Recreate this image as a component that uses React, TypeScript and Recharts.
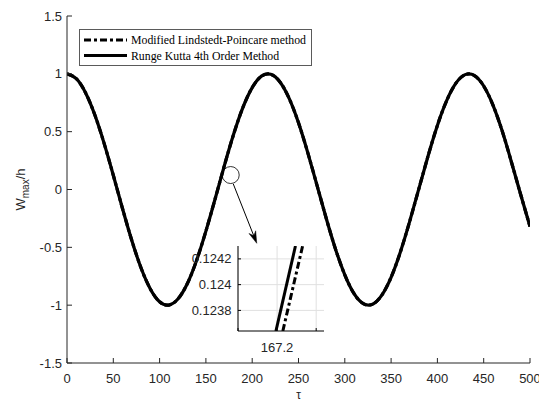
import React from 'react';
import { LineChart, Line, XAxis, YAxis, ReferenceDot, ReferenceLine, Legend, CartesianGrid } from 'recharts';

const tauValues = [0, 10, 20, 30, 40, 50, 60, 70, 80, 90, 100, 110, 120, 130, 140, 150, 160, 170, 180, 190, 200, 210, 220, 230, 240, 250, 260, 270, 280, 290, 300, 310, 320, 330, 340, 350, 360, 370, 380, 390, 400, 410, 420, 430, 440, 450, 460, 470, 480, 490, 500];
const lpValues = [1, 0.958, 0.837, 0.646, 0.401, 0.123, -0.166, -0.441, -0.679, -0.86, -0.971, -0.999, -0.945, -0.813, -0.612, -0.36, -0.08, 0.208, 0.479, 0.71, 0.881, 0.98, 0.996, 0.93, 0.786, 0.577, 0.319, 0.036, -0.251, -0.516, -0.738, -0.901, -0.987, -0.992, -0.913, -0.759, -0.541, -0.278, 0.007, 0.292, 0.554, 0.768, 0.919, 0.993, 0.985, 0.895, 0.73, 0.505, 0.236, -0.045, -0.32];
const rkValues = [1, 0.958, 0.837, 0.646, 0.401, 0.123, -0.166, -0.441, -0.679, -0.86, -0.971, -0.999, -0.945, -0.813, -0.612, -0.36, -0.08, 0.208, 0.479, 0.71, 0.881, 0.98, 0.996, 0.93, 0.786, 0.577, 0.319, 0.036, -0.251, -0.516, -0.738, -0.901, -0.987, -0.992, -0.913, -0.759, -0.541, -0.278, 0.007, 0.292, 0.554, 0.768, 0.919, 0.993, 0.985, 0.895, 0.73, 0.505, 0.236, -0.045, -0.32];
const xTicks = [0, 50, 100, 150, 200, 250, 300, 350, 400, 450, 500];
const yTicks = [-1.5, -1, -0.5, 0, 0.5, 1, 1.5];

const insetRkTau = [167.197, 167.247];
const insetRkValues = [0.12364, 0.1243];
const insetLpTau = [167.2147, 167.2653];
const insetLpValues = [0.12364, 0.1243];
const insetXTicks = [167.1, 167.2, 167.3];
const insetYTicks = [0.1238, 0.124, 0.1242];

const seriesNames = ['Modified Lindstedt-Poincare method', 'Runge Kutta 4th Order Method'];

const mainData = tauValues.map((t, i) => ({ tau: t, lp: lpValues[i], rk: rkValues[i] }));
const insetRk = insetRkTau.map((t, i) => ({ x: t, y: insetRkValues[i] }));
const insetLp = insetLpTau.map((t, i) => ({ x: t, y: insetLpValues[i] }));

const AX = '#262626';
const tickFont = { fontFamily: 'Liberation Sans, Arial, sans-serif', fontSize: 13, fill: AX };
const DASH = '7 3 3 3';

const renderLegend = () => (
  <svg width={233} height={37} style={{ display: 'block' }}>
    <rect x={0.5} y={0.5} width={232} height={36} fill="#fff" stroke="#5a5a5a" strokeWidth={1} />
    <line x1={5} y1={11} x2={48} y2={11} stroke="#000" strokeWidth={3} strokeDasharray={DASH} />
    <text x={52} y={15} fontFamily="Liberation Serif, Times New Roman, serif" fontSize={11.8} fill="#000">{seriesNames[0]}</text>
    <line x1={5} y1={26.5} x2={48} y2={26.5} stroke="#000" strokeWidth={3} />
    <text x={52} y={30.5} fontFamily="Liberation Serif, Times New Roman, serif" fontSize={11.8} fill="#000">{seriesNames[1]}</text>
  </svg>
);

const YLabel = (props: any) => {
  const vb = props.viewBox || {};
  const cy = vb.y + vb.height / 2;
  const x = 25;
  return (
    <text transform={`translate(${x},${cy}) rotate(-90)`} textAnchor="middle" fontFamily="Liberation Sans, Arial, sans-serif" fontSize={13} fill={AX}>
      W<tspan dy={3.5} fontSize={10}>max</tspan><tspan dy={-3.5}>/h</tspan>
    </text>
  );
};

const XLabel = (props: any) => {
  const vb = props.viewBox || {};
  const cx = vb.x + vb.width / 2;
  return (
    <text x={cx} y={399} textAnchor="middle" fontFamily="Liberation Sans, Arial, sans-serif" fontSize={12} fill={AX}>τ</text>
  );
};

const ArrowShape = (p: any) => {
  const { x1, y1, x2, y2 } = p;
  const ang = Math.atan2(y2 - y1, x2 - x1);
  const len = 12;
  const hw = 3.6;
  const bx = x2 - len * Math.cos(ang);
  const by = y2 - len * Math.sin(ang);
  const nx = -Math.sin(ang);
  const ny = Math.cos(ang);
  const pts = `${x2},${y2} ${bx + nx * hw},${by + ny * hw} ${x2 - 8 * Math.cos(ang)},${y2 - 8 * Math.sin(ang)} ${bx - nx * hw},${by - ny * hw}`;
  return (
    <g>
      <line x1={x1} y1={y1} x2={x2 - 6 * Math.cos(ang)} y2={y2 - 6 * Math.sin(ang)} stroke="#000" strokeWidth={1} />
      <polygon points={pts} fill="#000" stroke="#000" strokeWidth={0.5} />
    </g>
  );
};

export default function App() {
  return (
    <div style={{ position: 'absolute', left: 0, top: 0, width: 539, height: 401, background: '#fff' }}>
      <div style={{ position: 'absolute', left: 0, top: 0 }}>
        <LineChart width={539} height={401} data={mainData} margin={{ top: 16, right: 9, bottom: 0, left: 0 }}>
          <XAxis dataKey="tau" type="number" domain={[0, 500]} ticks={xTicks} allowDataOverflow
            height={38} tickSize={-5} tickMargin={15.5} tick={tickFont} stroke={AX}
            axisLine={{ stroke: AX }} tickLine={{ stroke: AX }} interval={0} label={<XLabel />} />
          <XAxis xAxisId="top" orientation="top" type="number" domain={[0, 500]} ticks={xTicks} allowDataOverflow
            height={0} tickSize={-5} tickFormatter={() => ''} stroke={AX} interval={0} />
          <YAxis type="number" domain={[-1.5, 1.5]} ticks={yTicks} allowDataOverflow
            width={67} tickSize={-5} tickMargin={10} tick={tickFont} stroke={AX} interval={0}
            label={<YLabel />} />
          <YAxis yAxisId="right" orientation="right" type="number" domain={[-1.5, 1.5]} ticks={yTicks} allowDataOverflow
            width={0} tickSize={-5} tickFormatter={() => ''} stroke={AX} interval={0} />
          <Legend verticalAlign="middle" align="center" content={renderLegend}
            wrapperStyle={{ left: 79, top: 29, width: 233, height: 37 }} />
          <Line type="natural" dataKey="lp" name={seriesNames[0]} stroke="#000" strokeWidth={3.2} strokeDasharray={DASH} dot={false} isAnimationActive={false} />
          <Line type="natural" dataKey="rk" name={seriesNames[1]} stroke="#000" strokeWidth={3.2} dot={false} isAnimationActive={false} />
          <ReferenceDot x={176.8} y={0.125} r={8.5} fill="#fff" fillOpacity={0} stroke="#000" strokeWidth={0.8} ifOverflow="visible" />
          <ReferenceLine segment={[{ x: 179.6, y: 0.0475 }, { x: 204.9, y: -0.465 }]} ifOverflow="visible" shape={ArrowShape} />
        </LineChart>
      </div>
      <div style={{ position: 'absolute', left: 180, top: 240 }}>
        <LineChart width={150} height={120} margin={{ top: 6, right: 6, bottom: 0, left: 0 }}>
          <CartesianGrid stroke="#e0e0e0" fill="#fff" verticalValues={insetXTicks} horizontalValues={insetYTicks} />
          <XAxis dataKey="x" type="number" domain={[167.1, 167.32]} ticks={insetXTicks} allowDataOverflow
            height={29} tickSize={-3} tickMargin={14.7} tick={tickFont} stroke="#000" interval={0}
            tickFormatter={(v: number) => (Math.abs(v - 167.2) < 1e-6 ? '167.2' : '')} />
          <YAxis type="number" domain={[0.12364, 0.1243]} ticks={insetYTicks} allowDataOverflow
            width={58} tickSize={-3} tickMargin={9.6} tick={tickFont} stroke="#000" interval={0}
            tickFormatter={(v: number) => String(Number(v.toFixed(4)))} />
          <Line data={insetLp} type="linear" dataKey="y" stroke="#000" strokeWidth={3} strokeDasharray={DASH} dot={false} isAnimationActive={false} />
          <Line data={insetRk} type="linear" dataKey="y" stroke="#000" strokeWidth={3} dot={false} isAnimationActive={false} />
        </LineChart>
      </div>
    </div>
  );
}
